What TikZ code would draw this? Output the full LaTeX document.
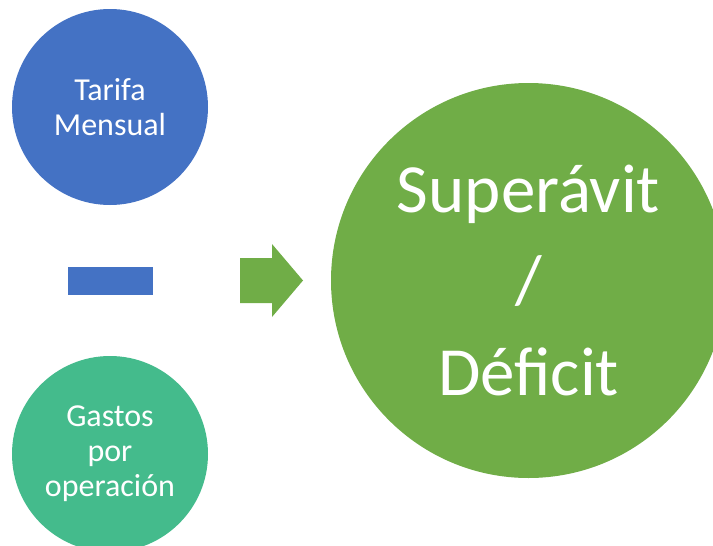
\documentclass[tikz,border=0pt]{standalone}
\usepackage{fontspec}
\setmainfont{Carlito}
\definecolor{tarifablue}{HTML}{4472C4}
\definecolor{gastosgreen}{HTML}{44BB8C}
\definecolor{saldogreen}{HTML}{70AD47}
\begin{document}
\begin{tikzpicture}[x=1pt,y=-1pt,
  bubble/.style={circle,inner sep=0pt,outer sep=0pt,text=white,align=center},
  smalltext/.style={font=\fontsize{32}{35}\selectfont},
  bigtext/.style={font=\fontsize{69}{91.5}\selectfont}]
\useasboundingbox (0,0) rectangle (713,546);
\node[bubble,smalltext,fill=tarifablue,minimum size=196pt] (tarifa) at (110,107) {Tarifa\\Mensual};
\node[bubble,smalltext,fill=gastosgreen,minimum size=196pt] (gastos) at (110,454) {Gastos\\por\\operación};
\fill[tarifablue] (68,267) rectangle (153,295);
\fill[saldogreen] (240,258) -- (272,258) -- (272,244) -- (303,280.5) -- (272,317) -- (272,303) -- (240,303) -- cycle;
\node[bubble,bigtext,fill=saldogreen,minimum size=395pt] (saldo) at (528.5,280.5) {Superávit\\/\\Déficit};
\end{tikzpicture}
\end{document}
